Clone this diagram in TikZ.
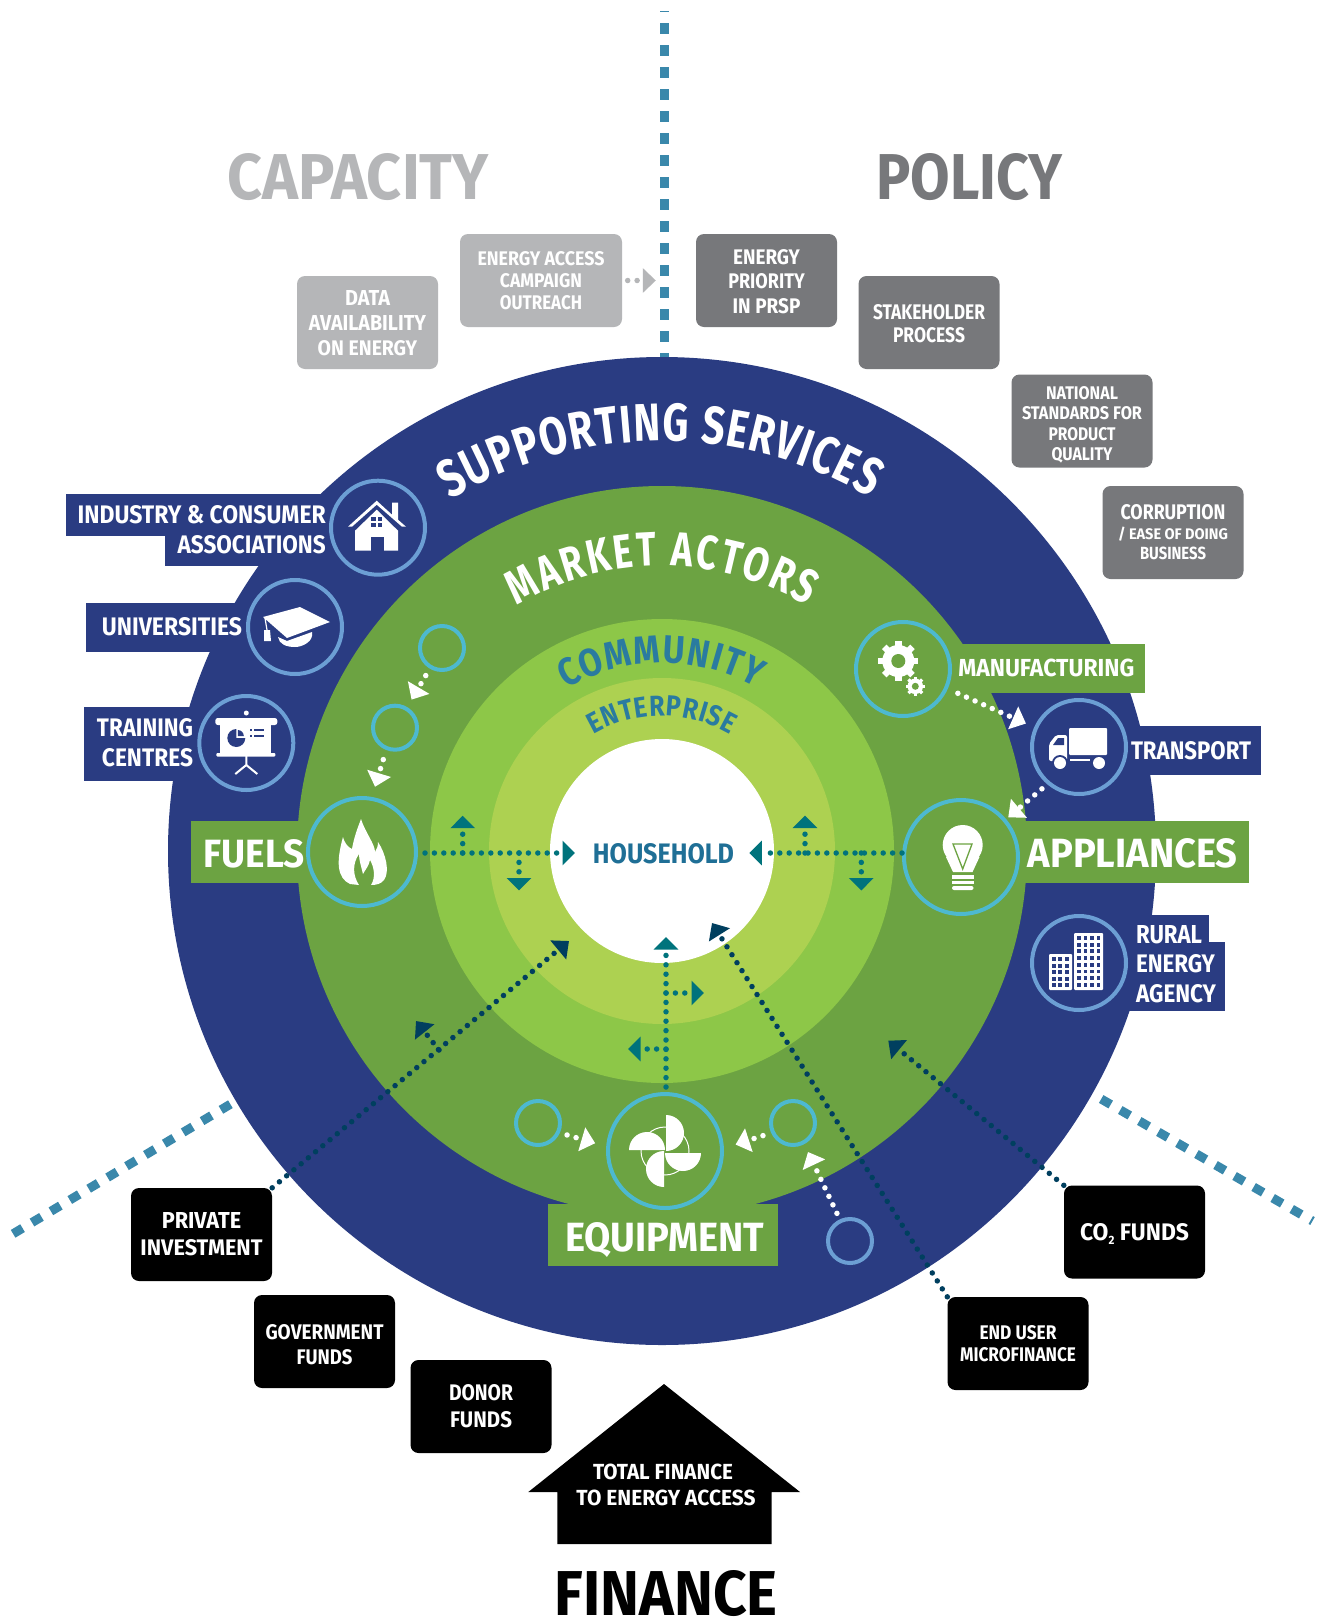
\documentclass[tikz,border=0pt]{standalone}
\usepackage{graphicx}
\usepackage{fontspec}
\setmainfont{Fira Sans}
\newfontfamily\condf{Fira Sans}[FakeStretch=0.76]
\newfontfamily\condg{Fira Sans}[FakeStretch=0.86]
\usetikzlibrary{arrows.meta,decorations.text}
\definecolor{navy}{HTML}{2A3C82}
\definecolor{gmid}{HTML}{6CA342}
\definecolor{gcom}{HTML}{8DC748}
\definecolor{gent}{HTML}{ADD151}
\definecolor{ringb}{HTML}{6C9FD4}
\definecolor{ringt}{HTML}{4DB9D0}
\definecolor{tealdot}{HTML}{00737C}
\definecolor{navydot}{HTML}{003F5F}
\definecolor{dashc}{HTML}{3A88AB}
\definecolor{capg}{HTML}{B5B6B8}
\definecolor{polg}{HTML}{77787B}
\definecolor{ringtxt}{HTML}{2A7BA0}
\definecolor{hhtxt}{HTML}{1F6F96}
\newcommand\lb[3]{\resizebox{#1pt}{#2pt}{\bfseries #3}}
\newcommand\ringf[1]{\condf\bfseries\fontsize{#1pt}{#1pt}\selectfont}
\newcommand\ringg[1]{\condg\bfseries\fontsize{#1pt}{#1pt}\selectfont}
\newcommand\tstrut[1]{\rule{0pt}{#1pt}}
\tikzset{
  pitch/.style={font=\fontsize{10pt}{#1pt}\selectfont},
  txt/.style={inner sep=0pt,outer sep=0pt,align=center,text=white},
  basebox/.style={rounded corners=8pt,minimum height=93pt,minimum width=141pt,inner sep=0pt,align=center,text=white},
  capbox/.style={basebox,fill=capg},
  polbox/.style={basebox,fill=polg},
  finbox/.style={basebox,fill=black},
  bluering/.style={circle,draw=ringb,line width=4pt,minimum size=94pt,inner sep=0pt,outer sep=0pt},
  tealring/.style={circle,draw=ringt,line width=4pt,inner sep=0pt,outer sep=0pt},
  smallring/.style={tealring,minimum size=44pt},
  dots/.style={line cap=round,line width=5.5pt,dash pattern=on 0pt off 9.4pt},
  whitearrow/.style={dots,draw=white,-{Triangle[length=14pt,width=24pt,sep=0pt]}},
  tealarrow/.style={dots,draw=tealdot,-{Triangle[length=12.5pt,width=24pt,sep=0pt]}},
  navyarrow/.style={dots,draw=navydot,-{Triangle[length=14pt,width=24pt,sep=0pt]}},
  greyarrow/.style={dots,draw=capg,-{Triangle[length=13pt,width=24pt,sep=0pt]}},
  bound/.style={draw=dashc,line width=9pt,dash pattern=on 11pt off 11pt},
}
\newcommand\gearicon[5]{%
  \foreach \a in {0,45,90,135}{\fill[white,shift={(#1,#2)},rotate=\a] (-#4,-#3) rectangle (#4,#3);}
  \fill[white] (#1,#2) circle[radius=.8*#3 pt];
  \fill[gmid] (#1,#2) circle[radius=#5 pt];}
\begin{document}
\begin{tikzpicture}[x=1pt,y=-1pt]
\useasboundingbox (0,0) rectangle (1319,1622);
\fill[white] (0,0) rectangle (1319,1622);
% boundary lines
\draw[bound,dash phase=10pt] (664,11) -- (664,360);
\draw[bound] (230.4,1104.2) -- (11.9,1234.5);
\draw[bound] (1101.2,1099) -- (1312.5,1221);
% rings
\coordinate (hc) at (662,851);
\coordinate (hl) at (662,853);
\fill[navy] (hc) circle[radius=494pt];
\fill[gmid] (hc) circle[radius=365pt];
\fill[gcom] (hc) circle[radius=232pt];
\fill[gent] (hc) circle[radius=173pt];
\node[circle,fill=white,minimum size=224pt,inner sep=0pt,outer sep=0pt] (hh) at (hc) {};
\node[txt,text=hhtxt] (hhl) at (663.5,854) {\lb{141}{20}{HOUSEHOLD}};
% curved titles
\path[decorate,decoration={text along path,text align=fit to path,text={|\color{white}\ringf{53}|SUPPORTING SERVICES}}]
  ([shift={(hc)}]121:410pt) arc[start angle=121,end angle=59.5,radius=410pt];
\path[decorate,decoration={text along path,text align=fit to path,text={|\color{white}\ringf{48}|MARKET ACTORS}}]
  ([shift={(hc)}]120.6:285pt) arc[start angle=120.6,end angle=59.4,radius=285pt];
\path[decorate,decoration={text along path,text align=fit to path,text={|\color{ringtxt}\ringg{39}|COMMUNITY}}]
  ([shift={(hc)}]120.6:188pt) arc[start angle=120.6,end angle=60,radius=188pt];
\path[decorate,decoration={text along path,text align=fit to path,text={|\color{ringtxt}\ringg{29}|ENTERPRISE}}]
  ([shift={(hc)}]120.4:135pt) arc[start angle=120.4,end angle=59.6,radius=135pt];
% label plates
\fill[navy] (66,494) rectangle (333,536);
\fill[navy] (165,536) rectangle (333,566);
\fill[navy] (86,603) rectangle (250,652);
\fill[navy] (84,707) rectangle (200,781);
\fill[gmid] (191,821) rectangle (317,883);
\fill[gmid] (950,644) rectangle (1145,693);
\fill[navy] (1127,726) rectangle (1261,775);
\fill[gmid] (1013,821) rectangle (1249,883);
\fill[navy] (1125,915) rectangle (1209,942);
\fill[navy] (1125,942) rectangle (1225,1011);
\fill[gmid] (548,1204) rectangle (778,1266);
% plate texts
\node[txt,anchor=east,pitch=29.7,align=right] (lind) at (325.7,529.5) {\lb{248}{18}{INDUSTRY \& CONSUMER}\\\lb{148}{18}{ASSOCIATIONS}};
\node[txt,anchor=east] (luni) at (242,627) {\lb{140}{18}{UNIVERSITIES}};
\node[txt,anchor=east,pitch=29.6,align=right] (ltra) at (193,743) {\lb{96}{18}{TRAINING}\\\lb{91}{18}{CENTRES}};
\node[txt,anchor=east] (lfue) at (305,854) {\lb{101}{28}{FUELS}};
\node[txt,anchor=west] (lman) at (958.3,667.7) {\lb{176}{17.5}{MANUFACTURING}};
\node[txt,anchor=west] (ltrn) at (1131,750.3) {\lb{120}{18}{TRANSPORT}};
\node[txt,anchor=west] (lapp) at (1027.7,853) {\lb{210}{29}{APPLIANCES}};
\node[txt,anchor=west,pitch=29.5,align=left] (lrur) at (1136,964) {\lb{66}{18}{RURAL}\\\lb{79}{18}{ENERGY}\\\lb{80}{18}{AGENCY}};
\node[txt] (lequ) at (664.7,1240) {\lb{199}{29}{EQUIPMENT}};
% circle nodes
\node[bluering] (ind) at (378,527.7) {};
\node[bluering] (uni) at (295,627) {};
\node[bluering] (tra) at (246.3,743) {};
\node[tealring,minimum size=108pt] (fue) at (362,852) {};
\node[tealring,minimum size=94pt] (man) at (903,669) {};
\node[bluering] (trn) at (1079,747) {};
\node[tealring,minimum size=114pt] (app) at (961,857) {};
\node[bluering] (rur) at (1079,963) {};
\node[tealring,minimum size=114pt] (equ) at (665,1151) {};
\node[smallring] (f1) at (442,648) {};
\node[smallring] (f2) at (395,727.7) {};
\node[smallring] (e1) at (538,1123) {};
\node[smallring] (e2) at (793,1123) {};
\node[circle,draw=ringb,line width=4pt,minimum size=44pt,inner sep=0pt,outer sep=0pt] (e3) at (850,1241) {};
% white connectors
\draw[whitearrow,shorten <=10pt,shorten >=10.6pt] (f1) -- (f2);
\draw[whitearrow,shorten <=12pt,shorten >=12.6pt] (f2.-112) -- (fue.80);
\draw[whitearrow,shorten <=13pt,shorten >=11pt] (man) -- (trn);
\draw[whitearrow,shorten <=9pt,shorten >=4.7pt] (trn.230) -- (app.40);
\draw[whitearrow,shorten <=9.5pt,shorten >=13.5pt] (e1.-25) -- (equ.176);
\draw[whitearrow,shorten <=10.6pt,shorten >=14.3pt] (e2.205) -- (equ.2);
\coordinate (e3t) at (808,1152);
\draw[whitearrow,shorten <=8.6pt] (e3) -- (e3t);
% teal connectors
\draw[tealarrow,shorten <=9pt,shorten >=87pt] (fue.east |- hl) -- (hl);
\draw[tealarrow,shorten <=2pt,shorten >=87.3pt] (app.west |- hl) -- (hl);
\coordinate (u1) at (462.7,815.7); \draw[tealarrow] (u1 |- hl) -- (u1);
\coordinate (d1) at (519,890.5);   \draw[tealarrow] (d1 |- hl) -- (d1);
\coordinate (u2) at (805,815.5);   \draw[tealarrow] (u2 |- hl) -- (u2);
\coordinate (d2) at (861.3,890.5); \draw[tealarrow] (d2 |- hl) -- (d2);
\coordinate (eu) at (666,937);
\draw[tealarrow,shorten <=7pt] (equ.north -| eu) -- (eu);
\coordinate (er) at (704,993);  \draw[tealarrow] (eu |- er) -- (er);
\coordinate (el) at (628,1049); \draw[tealarrow] (eu |- el) -- (el);
% boxes
\node[capbox,pitch=25] (data) at (367.5,322.5) {\tstrut{17}\lb{45}{15}{DATA}\\\lb{117}{15}{AVAILABILITY}\\\lb{99.5}{15}{ON ENERGY}};
\node[capbox,pitch=22,minimum width=162pt] (camp) at (541,280.5) {\tstrut{15}\lb{127}{14}{ENERGY ACCESS}\\\lb{82}{14}{CAMPAIGN}\\\lb{82}{14}{OUTREACH}};
\node[polbox,pitch=24.5] (prio) at (766.5,280.5) {\tstrut{17}\lb{66.6}{15}{ENERGY}\\\lb{76.5}{15}{PRIORITY}\\\lb{67.7}{15}{IN PRSP}};
\node[polbox,pitch=23] (stak) at (929,322.5) {\tstrut{17}\lb{112}{15}{STAKEHOLDER}\\\lb{72}{15}{PROCESS}};
\node[polbox,pitch=20.5] (natl) at (1082,421) {\tstrut{21}\lb{72}{13}{NATIONAL}\\\lb{120}{13}{STANDARDS FOR}\\\lb{67}{13}{PRODUCT}\\\lb{61}{13}{QUALITY}};
\node[polbox,pitch=20] (corr) at (1173,532.5) {\lb{105}{15}{CORRUPTION}\\\lb{110}{12.5}{/ EASE OF DOING}\\\lb{66}{12.5}{BUSINESS}};
\node[finbox,pitch=27] (priv) at (201.5,1234.5) {\lb{79.5}{16}{PRIVATE}\\\lb{122}{16}{INVESTMENT}};
\node[finbox,pitch=24.5] (govt) at (324.5,1341.5) {\tstrut{21}\lb{118}{15}{GOVERNMENT}\\\lb{56}{15}{FUNDS}};
\node[finbox,pitch=27] (dono) at (481,1406.5) {\lb{64}{16}{DONOR}\\\lb{62}{16}{FUNDS}};
\node[finbox,pitch=22] (endu) at (1018,1343.5) {\lb{77}{14}{END USER}\\\lb{116}{14}{MICROFINANCE}};
\node[finbox] (coii) at (1134.5,1232) {\tstrut{21}\lb{109}{17}{CO\raisebox{-2pt}{\scalebox{.5}{2}} FUNDS}};
% navy connectors
\coordinate (pt) at (569,941);
\coordinate (pb) at (439,1050);
\coordinate (pbt) at (416,1021);
\draw[navyarrow] (priv.north east) -- (pt);
\draw[navyarrow] (pb) -- (pbt);
\coordinate (et) at (712,923);
\draw[navyarrow] (endu.north west) -- (et);
\coordinate (ct) at (888.3,1040.7);
\draw[navyarrow] (coii.north west) -- (ct);
% grey connector
\draw[greyarrow,shorten <=5.5pt,shorten >=40pt] (camp) -- (prio);
% headings
\node[txt,text=capg] (capt) at (358.3,177) {\lb{261}{46}{CAPACITY}};
\node[txt,text=polg] (polt) at (969.5,177) {\lb{186}{46}{POLICY}};
% finance house
\fill[black] (664,1384) -- (800,1492) -- (771.7,1492) -- (771.7,1544) -- (557.3,1544) -- (557.3,1492) -- (528.3,1492) -- cycle;
\node[txt,pitch=26] (tot) at (663,1485) {\lb{140}{15.5}{TOTAL FINANCE}\\\hspace*{6pt}\lb{179}{15.5}{TO ENERGY ACCESS}};
\node[txt,text=black] (fint) at (666.2,1594) {\lb{223}{45}{FINANCE}};
% icons
\begin{scope}[shift={(378,527.7)}]
 \fill[white] (-30,-1) -- (-1.3,-27) -- (14,-13) -- (14,-25) -- (20,-25) -- (20,-8) -- (28,-1) -- (24,-1) -- (-1.3,-23) -- (-26,-1) -- cycle;
 \fill[white] (-23,3) -- (-1.3,-18) -- (20,3) -- (20,23) -- (-23,23) -- cycle;
 \fill[navy] (-7,9) rectangle (6,23);
 \fill[navy] (-7,-11) rectangle (-2.3,-6.5); \fill[navy] (-.5,-11) rectangle (4,-6.5);
 \fill[navy] (-7,-5) rectangle (-2.3,-.5); \fill[navy] (-.5,-5) rectangle (4,-.5);
\end{scope}
\begin{scope}[shift={(295,627)}]
 \fill[white] (-32,-10) -- (5,-20) -- (35,-5) -- (-8,11) -- cycle;
 \fill[white] (-17,10) -- (-8,14) -- (17,5) .. controls (19,14) and (8,20) .. (0,20) .. controls (-9,20) and (-16,17) .. cycle;
 \draw[white,line width=1.2pt] (-30,-9) -- (-28,3);
 \fill[white] (-31,3) -- (-25,3) -- (-24,14) -- (-31,14) -- cycle;
\end{scope}
\begin{scope}[shift={(246.3,743)}]
 \fill[white] (0,-30) circle[radius=2.5pt];
 \fill[white,rounded corners=2.5pt] (-31,-25) rectangle (31,-18);
 \fill[white] (-26,-20) rectangle (25,11);
 \fill[white,rounded corners=1pt] (-30,10) rectangle (29,13.5);
 \draw[white,line width=2pt] (0,13) -- (0,22) (-11,31) -- (0,22) -- (11,31);
 \fill[navy] (-10,-5) -- (-10,-14) arc[start angle=90,end angle=360,radius=9pt] -- cycle;
 \fill[navy] (-8.5,-7) -- (-8.5,-13) arc[start angle=90,end angle=0,radius=6pt] -- cycle;
 \draw[navy,line width=1.3pt] (8,-13) -- (18,-13) (8,-7) -- (18,-7) (4,-13) -- (6,-13) (4,-7) -- (6,-7);
\end{scope}
\begin{scope}[shift={(362,852)}]
 \fill[white] (-12,32) .. controls (-25,26) and (-26,10) .. (-19,-15)
   .. controls (-17,-8) and (-14,-5) .. (-10,-3)
   .. controls (-8,-15) and (-4,-25) .. (-1,-33)
   .. controls (3,-20) and (13,-8) .. (13,0)
   .. controls (15,-3) and (16,-6) .. (16,-10)
   .. controls (24,2) and (28,20) .. (22,28)
   .. controls (19,32) and (14,33) .. (9,33)
   .. controls (14,25) and (12,15) .. (8,8)
   .. controls (7,14) and (3,18) .. (1,22)
   .. controls (-1,14) and (-3,8) .. (-3,2)
   .. controls (-10,12) and (-9,24) .. (-3,33) -- cycle;
\end{scope}
\begin{scope}[shift={(903,669)}]
 \gearicon{-4.7}{-8}{20}{3.2}{7}
 \gearicon{12.3}{17.3}{9.7}{1.6}{3.5}
\end{scope}
\begin{scope}[shift={(1079,747)}]
 \fill[white,rounded corners=1pt] (-10,-19) rectangle (28,8);
 \fill[white,rounded corners=2pt] (-30,14) -- (-30,-3) -- (-23,-12) -- (-12,-12) -- (-12,14) -- cycle;
 \fill[navy] (-26,-2) -- (-21,-9) -- (-15,-9) -- (-15,-2) -- cycle;
 \fill[white] (-9,12) rectangle (11,14);
 \fill[navy] (-19,16) circle[radius=8pt]; \fill[white] (-19,16) circle[radius=6pt];
 \fill[white] (20,16) circle[radius=6pt];
\end{scope}
\begin{scope}[shift={(961,857)}]
 \fill[white] (1.7,-12) circle[radius=20pt];
 \fill[white] (-15,0) -- (-8,15) -- (11.5,15) -- (18.5,0) -- cycle;
 \fill[white] (-9,18) rectangle (12.5,21.5);
 \fill[white] (-9,23.5) rectangle (12.5,27);
 \fill[white,rounded corners=2pt] (-9,29) rectangle (12.5,33);
 \draw[gmid,line width=1.3pt] (-8,-13) -- (11,-13) -- (1.7,12) -- cycle;
\end{scope}
\begin{scope}[shift={(1079,963)}]
 \fill[white,rounded corners=1pt] (-5,-30) rectangle (24,27);
 \fill[white,rounded corners=1pt] (-30,-9) rectangle (-7,27);
 \foreach \c in {0,1,2,3}{\foreach \r in {0,...,7}{\fill[navy] (-2+6.6*\c,-27+6.7*\r) rectangle ++(3.6,3.8);}}
 \foreach \c in {0,1,2}{\foreach \r in {0,...,4}{\fill[navy] (-27.5+6.7*\c,-6+6.5*\r) rectangle ++(4,4);}}
\end{scope}
\begin{scope}[shift={(665,1151)}]
 \draw[white,line width=1pt] (0,0) circle[radius=24pt];
 \fill[white] (1,-36) arc[start angle=90,end angle=-90,radius=18pt] -- cycle;
 \fill[white] (-36,-1) arc[start angle=180,end angle=0,radius=18pt] -- cycle;
 \fill[white] (-1,36) arc[start angle=270,end angle=90,radius=18pt] -- cycle;
 \fill[white] (36,2) arc[start angle=0,end angle=-180,radius=18pt] -- cycle;
\end{scope}
\end{tikzpicture}
\end{document}
